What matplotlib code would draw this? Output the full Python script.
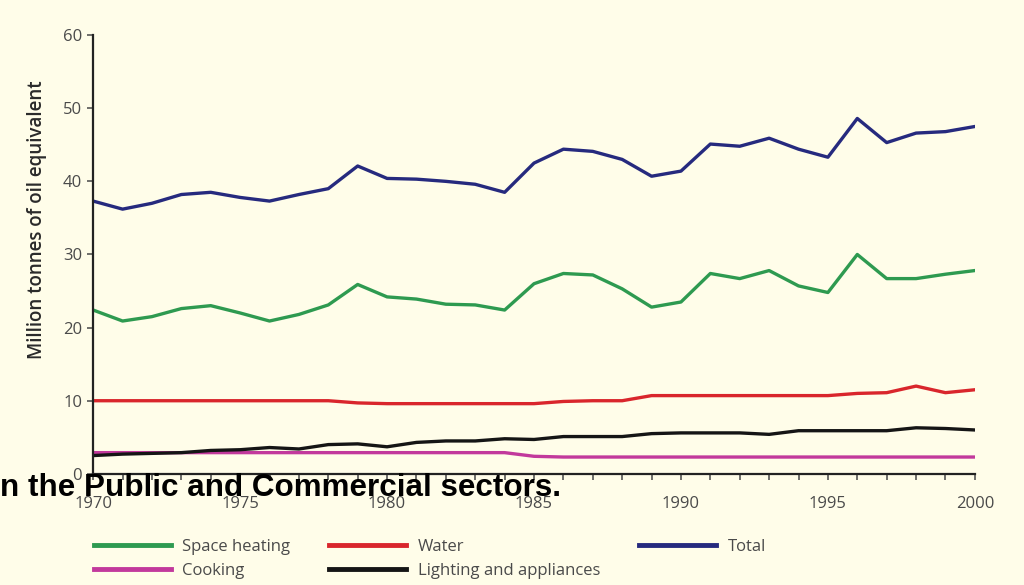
import matplotlib.pyplot as plt
from matplotlib.ticker import MultipleLocator

years = list(range(1970, 2001))

total = [37.3, 36.2, 37.0, 38.2, 38.5, 37.8, 37.3, 38.2, 39.0, 42.1,
         40.4, 40.3, 40.0, 39.6, 38.5, 42.5, 44.4, 44.1, 43.0, 40.7,
         41.4, 45.1, 44.8, 45.9, 44.4, 43.3, 48.6, 45.3, 46.6, 46.8, 47.5]
space_heating = [22.4, 20.9, 21.5, 22.6, 23.0, 22.0, 20.9, 21.8, 23.1, 25.9,
                 24.2, 23.9, 23.2, 23.1, 22.4, 26.0, 27.4, 27.2, 25.3, 22.8,
                 23.5, 27.4, 26.7, 27.8, 25.7, 24.8, 30.0, 26.7, 26.7, 27.3, 27.8]
water = [10.0, 10.0, 10.0, 10.0, 10.0, 10.0, 10.0, 10.0, 10.0, 9.7,
         9.6, 9.6, 9.6, 9.6, 9.6, 9.6, 9.9, 10.0, 10.0, 10.7,
         10.7, 10.7, 10.7, 10.7, 10.7, 10.7, 11.0, 11.1, 12.0, 11.1, 11.5]
lighting = [2.5, 2.7, 2.8, 2.9, 3.2, 3.3, 3.6, 3.4, 4.0, 4.1,
            3.7, 4.3, 4.5, 4.5, 4.8, 4.7, 5.1, 5.1, 5.1, 5.5,
            5.6, 5.6, 5.6, 5.4, 5.9, 5.9, 5.9, 5.9, 6.3, 6.2, 6.0]
cooking = [2.9, 2.9, 2.9, 2.9, 2.9, 2.9, 2.9, 2.9, 2.9, 2.9,
           2.9, 2.9, 2.9, 2.9, 2.9, 2.4, 2.3, 2.3, 2.3, 2.3,
           2.3, 2.3, 2.3, 2.3, 2.3, 2.3, 2.3, 2.3, 2.3, 2.3, 2.3]

bg = '#fffde9'
txt = '#4a4a4a'
plt.rcParams['font.family'] = ['Open Sans', 'DejaVu Sans']

fig = plt.figure(figsize=(10.24, 5.85), dpi=100, facecolor=bg)
ax = fig.add_axes([0.091, 0.190, 0.861, 0.750])
ax.set_facecolor(bg)

lw = 2.4
l_sh, = ax.plot(years, space_heating, color='#2e9a50', lw=lw, label='Space heating')
l_wa, = ax.plot(years, water, color='#d9262c', lw=lw, label='Water')
l_co, = ax.plot(years, cooking, color='#c2399c', lw=lw, label='Cooking')
l_li, = ax.plot(years, lighting, color='#151515', lw=lw, label='Lighting and appliances')
l_to, = ax.plot(years, total, color='#262a7e', lw=lw, label='Total')

ax.set_xlim(1970, 2000)
ax.set_ylim(0, 60)
ax.xaxis.set_major_locator(MultipleLocator(5))
ax.xaxis.set_minor_locator(MultipleLocator(1))
ax.yaxis.set_major_locator(MultipleLocator(10))
for s in ['top', 'right']:
    ax.spines[s].set_visible(False)
for s in ['left', 'bottom']:
    ax.spines[s].set_linewidth(1.6)
    ax.spines[s].set_color('#222222')
ax.tick_params(axis='both', which='major', length=4, width=1.2, color='#555555',
               labelsize=12, labelcolor=txt)
ax.tick_params(axis='x', which='major', pad=12)
ax.tick_params(axis='y', which='major', pad=4)
ax.tick_params(axis='x', which='minor', length=4, width=1.2, color='#555555')
ax.set_ylabel('Million tonnes of oil equivalent', fontsize=13.5, color='#2a2a2a',
              fontweight='semibold')
ax.yaxis.set_label_coords(-0.052, 0.58)

fig.legend(handles=[l_sh, l_co, l_wa, l_li, l_to], ncol=3, frameon=False,
           loc='upper left', bbox_to_anchor=(0.077, 0.104), fontsize=12,
           handlelength=4.6, handletextpad=0.7, columnspacing=2.35,
           labelspacing=0.45, labelcolor=txt)
for line in fig.legends[0].get_lines():
    line.set_linewidth(3.5)

fig.text(0.0, 1 - 496 / 585, 'n the Public and Commercial sectors.',
         fontsize=22.6, fontweight='bold', family='Liberation Sans',
         ha='left', va='baseline', color='black')

fig.savefig('out.png', dpi=100, facecolor=bg)
